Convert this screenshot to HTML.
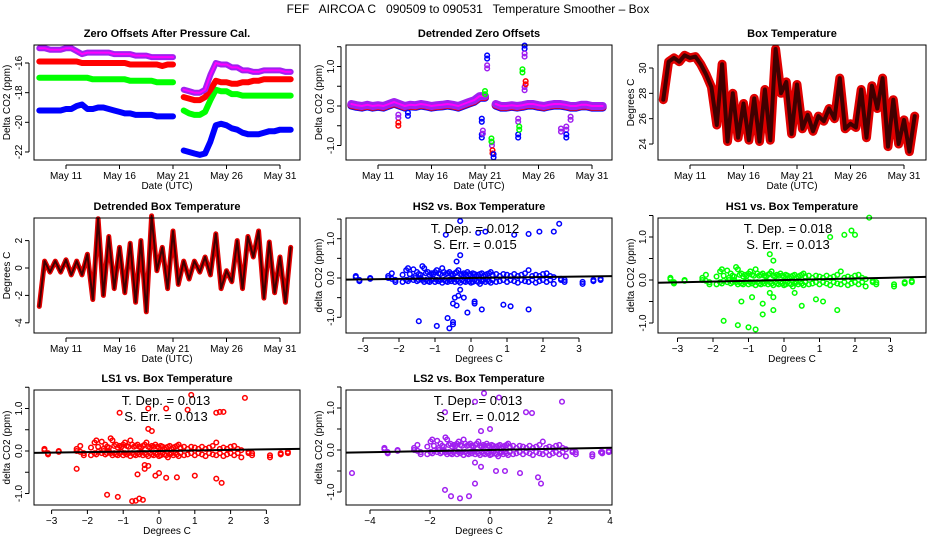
<!DOCTYPE html>
<html><head><meta charset="utf-8">
<style>
body{margin:0;background:#fff;}
svg{display:block;font-family:"Liberation Sans",sans-serif;}
.t{font-weight:bold;font-size:11px;}
.a{font-size:10px;}
</style></head>
<body>
<svg id="c" width="936" height="540" viewBox="0 0 936 540" xmlns="http://www.w3.org/2000/svg">
<rect width="936" height="540" fill="#fff"/>
<text x="468" y="13" text-anchor="middle" font-size="12" style="white-space:pre" xml:space="preserve">FEF   AIRCOA C   090509 to 090531   Temperature Smoother – Box</text>
</svg>
<script>
// ---- time series data (half-day steps from May 8.5 to May 32) ----
const tStart = 8.5;
const tStep = 0.5;
const offBlue = [-19.2,-19.2,-19.2,-19.2,-19.2,-19.1,-19.1,-18.9,-18.8,-19.1,-19.1,-19.0,-19.0,-19.1,-19.2,-19.3,-19.4,-19.4,-19.5,-19.5,-19.5,-19.5,-19.6,-19.6,-19.6,-19.6,null,-21.9,-22.0,-22.1,-22.2,-22.1,-21.3,-20.2,-20.1,-20.2,-20.4,-20.5,-20.7,-20.8,-20.8,-20.8,-20.7,-20.6,-20.6,-20.5,-20.5,-20.5];
const offRed = [-15.9,-15.9,-15.9,-15.9,-15.9,-15.9,-15.9,-15.9,-16.0,-16.0,-16.0,-16.0,-16.0,-16.0,-16.0,-16.0,-16.0,-16.1,-16.1,-16.1,-16.1,-16.1,-16.1,-16.2,-16.1,-16.1,null,-18.3,-18.4,-18.5,-18.5,-18.3,-17.8,-17.2,-17.3,-17.3,-17.4,-17.4,-17.3,-17.3,-17.2,-17.2,-17.1,-17.1,-17.1,-17.1,-17.1,-17.1];
const offGreen = [-17.0,-17.0,-17.0,-17.0,-17.0,-17.0,-17.0,-17.0,-17.0,-17.0,-17.1,-17.1,-17.1,-17.1,-17.1,-17.1,-17.1,-17.2,-17.2,-17.2,-17.2,-17.2,-17.3,-17.3,-17.3,-17.3,null,-19.2,-19.4,-19.5,-19.5,-19.3,-18.5,-17.8,-17.9,-17.9,-18.1,-18.1,-18.2,-18.2,-18.2,-18.2,-18.2,-18.2,-18.2,-18.2,-18.2,-18.2];
const offPurple = [-15.0,-15.0,-15.1,-15.1,-15.1,-15.0,-15.0,-15.2,-15.4,-15.3,-15.3,-15.3,-15.3,-15.3,-15.4,-15.4,-15.4,-15.4,-15.5,-15.5,-15.5,-15.6,-15.6,-15.6,-15.6,-15.6,null,-17.8,-17.9,-18.0,-18.0,-17.8,-16.8,-16.0,-16.1,-16.1,-16.3,-16.3,-16.5,-16.5,-16.6,-16.6,-16.5,-16.5,-16.5,-16.5,-16.6,-16.6];
const detBase = [0.05,0.02,0.0,0.03,0.0,0.02,0.0,0.05,0.1,0.05,0.0,0.03,0.02,0.05,0.03,0.0,0.02,0.03,0.05,0.03,0.0,0.05,0.1,0.15,0.25,0.25,null,0.05,0.0,0.0,0.02,0.0,0.02,0.05,0.05,0.02,0.0,0.03,0.05,0.05,0.03,0.0,0.0,0.03,0.03,0.0,0.0,0.0];
const spikeDay = [12.9,12.9,13.8,20.7,20.7,20.8,21.0,21.2,21.2,21.65,21.7,21.8,24.1,24.1,24.2,24.7,24.7,24.7,24.8,28.1,28.6,28.6,29.0,21.6,24.5];
const spikeVal = [-0.3,-0.5,-0.25,-0.4,-0.8,-0.7,0.3,1.2,0.95,-1.0,-1.2,-1.3,-0.4,-0.8,-0.6,0.4,1.45,1.25,0.55,-0.65,-0.6,-0.8,-0.35,-0.9,0.85];
const spikeCol = ["purple","red","blue","blue","blue","purple","green","blue","purple","purple","red","blue","purple","blue","green","purple","blue","purple","red","purple","purple","blue","purple","green","green"];
const boxTemp = [27.5,30.5,30.8,30.5,31.0,30.8,30.9,30.3,29.5,28.5,25.5,30.3,24.2,28.0,24.5,27.2,24.3,27.6,24.2,28.3,24.3,31.5,28.0,28.9,24.8,28.7,25.2,26.3,25.0,26.2,25.8,26.8,26.0,29.2,25.2,25.6,25.3,28.3,24.5,28.6,26.8,29.2,23.8,27.5,24.0,25.9,23.4,26.2];
const detTemp = [-2.8,0.5,-0.3,0.5,-0.3,0.6,-0.5,0.5,-0.5,1.0,-2.3,3.6,-2.0,2.3,-1.5,1.5,-1.8,1.8,-2.5,2.0,-3.2,3.8,-0.2,1.5,-1.5,2.7,-1.2,0.5,-0.8,0.5,-0.3,0.8,-0.5,2.5,-1.5,-0.2,-1.0,2.0,-1.5,2.3,0.8,2.7,-2.2,1.9,-1.8,0.8,-2.5,1.5];
// ---- scatter data ----
const cx = [-3.2,-3.1,-2.8,-2.3,-2.2,-2.1,-1.9,-1.8,-1.75,-1.7,-1.6,-1.55,-1.5,-1.45,-1.4,-1.35,-1.3,-1.25,-1.2,-1.15,-1.1,-1.05,-1.0,-0.95,-0.9,-0.85,-0.8,-0.75,-0.7,-0.65,-0.6,-0.55,-0.5,-0.45,-0.4,-0.35,-0.3,-0.25,-0.2,-0.15,-0.1,-0.05,0,0.05,0.1,0.15,0.2,0.25,0.3,0.35,0.4,0.45,0.5,0.55,0.6,0.7,0.8,0.9,1.0,1.1,1.2,1.3,1.4,1.5,1.6,1.7,1.8,1.9,2.0,2.1,2.2,2.3,2.5,2.6,3.1,3.4,3.6];
const cyA = [0.05,-0.05,0.0,0.05,0.12,-0.1,0.08,0.2,0.25,0.1,0.22,0.05,0.15,0.1,0.08,0.3,0.25,0.12,0.15,0.08,0.12,0.1,0.15,0.2,0.12,0.1,0.25,0.15,0.1,0.12,0.15,0.1,0.08,0.12,0.15,0.2,0.1,0.08,0.12,0.1,0.15,0.1,0.08,0.12,0.1,0.05,0.08,0.1,0.12,0.05,0.08,0.1,0.12,0.15,0.08,0.1,0.05,0.1,0.08,0.05,0.1,0.05,0.08,0.12,0.2,0.05,0.08,0.05,0.1,0.12,0.05,0.02,-0.05,-0.05,-0.15,-0.05,-0.02];
const cyB = [0.02,-0.08,-0.02,0.0,-0.02,-0.05,-0.1,-0.05,-0.08,-0.02,-0.05,0.0,-0.08,-0.05,0.0,-0.05,-0.1,-0.05,-0.08,-0.1,-0.05,-0.02,-0.1,-0.05,-0.08,-0.05,-0.12,-0.05,-0.08,-0.1,-0.05,-0.08,-0.02,-0.1,-0.05,-0.08,-0.12,-0.05,-0.08,-0.1,-0.05,-0.08,-0.12,-0.1,-0.05,-0.08,-0.1,-0.15,-0.08,-0.05,-0.1,-0.05,-0.08,-0.12,-0.05,-0.1,-0.08,-0.05,-0.1,-0.05,-0.08,-0.12,-0.05,-0.08,-0.1,-0.05,-0.12,-0.08,-0.05,-0.1,-0.05,-0.15,-0.02,-0.1,-0.1,-0.08,-0.05];
const hs2X = [-0.3,2.45,-0.7,0.2,0.4,1.2,1.6,1.9,2.3,-0.3,-0.4,-0.3,-0.35,-0.45,-0.2,-0.5,-0.4,0.1,0.1,0.3,-0.1,0.9,1.1,1.6,-1.45,-0.95,-0.65,-0.5,-0.5,-0.6];
const hs2Y = [1.45,1.38,1.1,1.15,1.18,1.1,1.12,1.18,1.18,0.58,0.42,-0.3,-0.45,-0.5,-0.5,-0.65,-0.7,-0.6,-0.65,-0.8,-0.88,-0.68,-0.72,-0.8,-1.1,-1.22,-1.02,-1.12,-1.18,-1.28];
const hs1X = [2.4,1.9,1.7,2.0,1.3,-0.4,-0.3,-1.2,-0.9,-0.6,-0.4,-0.3,0.3,0.5,0.9,1.1,1.5,-1.7,-1.3,-1.0,-0.8,-0.6,-0.3];
const hs1Y = [1.45,1.15,1.05,1.05,1.0,0.6,0.45,-0.5,-0.4,-0.55,-0.3,-0.4,-0.3,-0.6,-0.45,-0.5,-0.7,-0.95,-1.05,-1.1,-1.15,-0.8,-0.7];
const ls1X = [0.9,2.4,-0.3,0.2,0.8,1.6,1.7,1.8,-1.1,-0.3,-0.2,-2.3,-0.6,-0.4,-0.3,-0.4,-0.1,0.0,0.2,0.5,1.0,1.6,1.75,-1.45,-1.15,-0.75,-0.65,-0.55,-0.45];
const ls1Y = [1.32,1.25,1.0,1.0,0.97,0.9,0.92,0.92,0.9,0.52,0.47,-0.42,-0.55,-0.42,-0.35,-0.33,-0.58,-0.52,-0.63,-0.62,-0.58,-0.65,-0.75,-1.03,-1.08,-1.18,-1.17,-1.12,-1.15];
const ls2X = [-0.2,0.3,-0.5,1.2,1.4,2.4,-1.5,0.0,-0.3,-4.6,-0.5,-0.3,0.2,0.5,1.0,1.6,1.7,-1.3,-1.0,-0.7,-1.5,-0.5,3.7];
const ls2Y = [1.35,1.25,1.15,0.9,0.88,1.15,0.9,0.5,0.45,-0.55,-0.3,-0.4,-0.5,-0.5,-0.55,-0.65,-0.8,-1.1,-1.15,-1.1,-0.95,-0.8,-0.05];
const slopes = [0.012,0.018,0.013,0.013];
const serrs = ["0.015","0.013","0.013","0.012"];

const svg = document.getElementById('c');
const NS = "http://www.w3.org/2000/svg";
function mk(tag, parent){const e=document.createElementNS(NS,tag);parent.appendChild(e);return e;}
function set(e,o){for(const k in o)e.setAttribute(k,o[k]);return e;}
const COLS={blue:"#0000ff",red:"#ff0000",green:"#00ff00",purple:"#a020f0"};

function panel(name,L,T,W,H,title,xlab,ylab){
  const g=mk('g',svg);
  
  
  const tt=set(mk('text',g),{x:L+W/2,y:T-8,'text-anchor':'middle',class:'t'});
  tt.textContent=title;
  
  
  const xl=set(mk('text',g),{x:L+W/2,y:T+H+29,'text-anchor':'middle',class:'a'});
  xl.textContent=xlab;
  
  
  const yl=set(mk('text',g),{x:0,y:0,'text-anchor':'middle',class:'a',transform:`translate(${L-24},${T+H/2}) rotate(-90)`});
  yl.textContent=ylab;
  
  
  return g;
}
function frame(g,L,T,W,H){
  const r=set(mk('rect',g),{x:L,y:T,width:W,height:H,fill:'none',stroke:'#000','stroke-width':1});
  
  
}
function yAxis(g,L,sy,ticks,labels){
  set(mk('line',g),{x1:L-5,x2:L-5,y1:sy(ticks[0]),y2:sy(ticks[ticks.length-1]),stroke:'#000'});
  ticks.forEach((v,i)=>{
    set(mk('line',g),{x1:L-9,x2:L-5,y1:sy(v),y2:sy(v),stroke:'#000'});
    if(labels[i]!==""){
      const t=set(mk('text',g),{x:0,y:0,'text-anchor':'middle',class:'a',transform:`translate(${L-12},${sy(v)}) rotate(-90)`});
      t.textContent=labels[i];
      
      
    }
  });
}
function xAxis(g,B,sx,ticks,labels){
  set(mk('line',g),{x1:sx(ticks[0]),x2:sx(ticks[ticks.length-1]),y1:B+5,y2:B+5,stroke:'#000'});
  ticks.forEach((v,i)=>{
    set(mk('line',g),{x1:sx(v),x2:sx(v),y1:B+5,y2:B+9,stroke:'#000'});
    const t=set(mk('text',g),{x:sx(v),y:B+19,'text-anchor':'middle',class:'a'});
    t.textContent=labels[i];
    
    
  });
}
const dayTicks=[11,16,21,26,31];
const dayLabels=["May 11","May 16","May 21","May 26","May 31"];
function timeX(L){return d=>L+32+(d-11)*10.7;}

function band(g,sx,sy,vals,col,w,name){
  let segs=[],cur=[];
  vals.forEach((v,i)=>{
    if(v===null){if(cur.length)segs.push(cur);cur=[];return;}
    cur.push(sx(tStart+i*tStep).toFixed(1)+","+sy(v).toFixed(1));
  });
  if(cur.length)segs.push(cur);
  segs.forEach(s=>{
    const p=set(mk('polyline',g),{points:s.join(" "),fill:'none',stroke:col,'stroke-width':w,'stroke-linejoin':'round','stroke-linecap':'round'});
    
    
  });
}
function pt(g,x,y,col,name){
  const c=set(mk('circle',g),{cx:x,cy:y,r:2.3,fill:'none',stroke:col,'stroke-width':1.5});
  
  
}

// Panel 1
(function(){
  const L=34,T=45,W=266,H=115;
  const g=panel('zero-offsets-panel',L,T,W,H,'Zero Offsets After Pressure Cal.','Date (UTC)','Delta CO2 (ppm)');
  const sx=timeX(L), sy=v=>63+(-16-v)*14.83;
  band(g,sx,sy,offBlue,COLS.blue,6,'series-blue');
  band(g,sx,sy,offGreen,COLS.green,6,'series-green');
  band(g,sx,sy,offRed,COLS.red,6,'series-red');
  band(g,sx,sy,offPurple,COLS.purple,6,'series-purple');
  band(g,sx,sy,offPurple,'#ff00ff',2,'series-purple-dots');
  frame(g,L,T,W,H);
  yAxis(g,L,sy,[-22,-20,-18,-16],["-22","-20","-18","-16"]);
  xAxis(g,T+H,sx,dayTicks,dayLabels);
})();
// Panel 2
(function(){
  const L=346,T=45,W=266,H=115;
  const g=panel('detrended-zero-offsets-panel',L,T,W,H,'Detrended Zero Offsets','Date (UTC)','Delta CO2 (ppm)');
  const sx=timeX(L), sy=v=>106-v*39.5;
  band(g,sx,sy,detBase.map(v=>v===null?null:v-0.04),COLS.blue,8,'series-blue');
  band(g,sx,sy,detBase.map(v=>v===null?null:v-0.02),COLS.red,8,'series-red');
  band(g,sx,sy,detBase,COLS.purple,8,'series-purple');
  band(g,sx,sy,detBase,'#ff00ff',2,'series-purple-dots');
  spikeDay.forEach((d,i)=>{
    pt(g,sx(d),sy(spikeVal[i]),COLS[spikeCol[i]],'spike-point');
    pt(g,sx(d),sy(spikeVal[i]+0.08),COLS[spikeCol[i]],'spike-point');
  });
  frame(g,L,T,W,H);
  yAxis(g,L,sy,[-1,-0.5,0,0.5,1,1.5],["-1.0","","0.0","","1.0",""]);
  xAxis(g,T+H,sx,dayTicks,dayLabels);
})();
// Panel 3
(function(){
  const L=658,T=45,W=268,H=115;
  const g=panel('box-temperature-panel',L,T,W,H,'Box Temperature','Date (UTC)','Degrees C');
  const sx=timeX(L), sy=v=>68+(30-v)*12.67;
  band(g,sx,sy,boxTemp,'#e00000',9,'box-temp-series');
  band(g,sx,sy,boxTemp,'#400000',4,'box-temp-core');
  frame(g,L,T,W,H);
  yAxis(g,L,sy,[24,26,28,30],["24","26","28","30"]);
  xAxis(g,T+H,sx,dayTicks,dayLabels);
})();
// Panel 4
(function(){
  const L=34,T=218,W=266,H=115;
  const g=panel('detrended-box-temperature-panel',L,T,W,H,'Detrended Box Temperature','Date (UTC)','Degrees C');
  const sx=timeX(L), sy=v=>268-v*13.7;
  band(g,sx,sy,detTemp,'#e00000',5,'det-temp-series');
  band(g,sx,sy,detTemp,'#400000',2,'det-temp-core');
  frame(g,L,T,W,H);
  yAxis(g,L,sy,[-4,-2,0,2],["-4","-2","0","2"]);
  xAxis(g,T+H,sx,dayTicks,dayLabels);
})();
// Scatter panels
function scatter(name,L,T,W,H,title,x0,xs,y0,ys,col,ox,oy,slope,serr,xt,xl,labX,cxScale){
  const g=panel(name,L,T,W,H,title,'Degrees C','delta CO2 (ppm)');
  const sx=v=>x0+v*xs, sy=v=>y0-v*ys;
  cx.forEach((x,i)=>{
    if(i<cyA.length)pt(g,sx(x*cxScale),sy(cyA[i]),col,'cluster-point');
    if(i<cyB.length)pt(g,sx(x*cxScale),sy(cyB[i]),col,'cluster-point');
  });
  ox.forEach((x,i)=>pt(g,sx(x),sy(oy[i]),col,'outlier-point'));
  const xa=(L-x0)/xs, xb=(L+W-x0)/xs;
  const ln=set(mk('line',g),{x1:L,x2:L+W,y1:sy(slope*xa),y2:sy(slope*xb),stroke:'#000','stroke-width':2});
  
  
  const t1=set(mk('text',g),{x:labX,y:T+15,'text-anchor':'middle','font-size':13});
  t1.textContent='T. Dep. =  '+slope.toFixed(3);
  
  
  const t2=set(mk('text',g),{x:labX,y:T+31,'text-anchor':'middle','font-size':13});
  t2.textContent='S. Err. =  '+serr;
  
  
  frame(g,L,T,W,H);
  yAxis(g,L,sy,[-1,-0.5,0,0.5,1,1.5],["-1.0","","0.0","","1.0",""]);
  xAxis(g,T+H,sx,xt,xl);
}
scatter('hs2-scatter-panel',346,218,266,115,'HS2 vs. Box Temperature',471,36,278,39.3,COLS.blue,hs2X,hs2Y,slopes[0],serrs[0],[-3,-2,-1,0,1,2,3],["−3","−2","−1","0","1","2","3"],475,1);
scatter('hs1-scatter-panel',658,218,268,115,'HS1 vs. Box Temperature',784,35.5,280,43,COLS.green,hs1X,hs1Y,slopes[1],serrs[1],[-3,-2,-1,0,1,2,3],["−3","−2","−1","0","1","2","3"],788,1);
scatter('ls1-scatter-panel',34,390,266,115,'LS1 vs. Box Temperature',159,35.8,451,42.5,COLS.red,ls1X,ls1Y,slopes[2],serrs[2],[-3,-2,-1,0,1,2,3],["−3","−2","−1","0","1","2","3"],166,1);
scatter('ls2-scatter-panel',346,390,266,115,'LS2 vs. Box Temperature',490,30,450,42,COLS.purple,ls2X,ls2Y,slopes[3],serrs[3],[-4,-2,0,2,4],["−4","−2","0","2","4"],478,1.1);
</script>
</body></html>
